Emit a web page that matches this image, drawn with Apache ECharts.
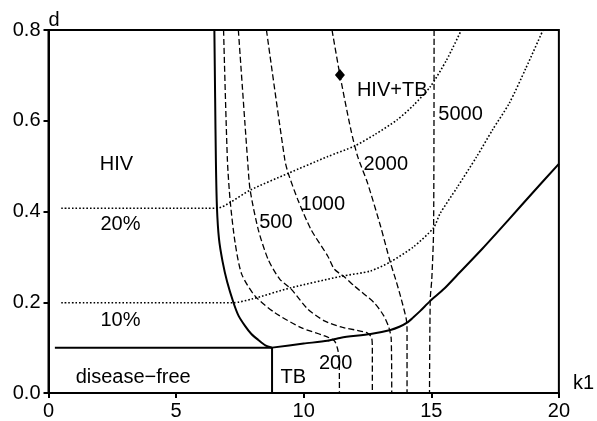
<!DOCTYPE html>
<html><head><meta charset="utf-8">
<script src="https://cdn.jsdelivr.net/npm/echarts@6/dist/echarts.min.js"></script>
<style>html,body{margin:0;padding:0;background:#fff}#c{width:597px;height:421px}</style>
</head><body><div id="c"></div>
<script>
// ---- data ----
const xTicks = [0, 5, 10, 15, 20];
const yTicks = [0, 0.2, 0.4, 0.6, 0.8];

// thick region boundaries
const diseaseFreeTop = [[0.25, 0.1], [8.76, 0.1]];
const tbLeftEdge = [[8.76, 0], [8.76, 0.1]];
const hivBoundary = [[6.5, 0.8], [6.53, 0.65], [6.56, 0.51], [6.6, 0.41], [6.68, 0.34], [6.82, 0.29], [7.0, 0.245], [7.25, 0.199], [7.45, 0.17], [7.7, 0.148], [7.95, 0.13], [8.22, 0.117], [8.5, 0.105], [8.76, 0.1]];
const tbBoundary = [[8.76, 0.1], [10, 0.109], [10.93, 0.115], [11.46, 0.122], [12.62, 0.13], [13.4, 0.139], [13.75, 0.146], [14.05, 0.155], [14.3, 0.167], [14.57, 0.181], [14.96, 0.203], [15.49, 0.229], [16.0, 0.259], [17, 0.318], [18, 0.38], [19, 0.443], [20, 0.505]];

// dashed contour levels
const contour200 = [[6.86, 0.8], [7.01, 0.514], [7.12, 0.423], [7.31, 0.332], [7.57, 0.262], [8.09, 0.214], [8.87, 0.177], [9.9, 0.144], [10.81, 0.126], [11.2, 0.115], [11.33, 0.097], [11.39, 0.075], [11.4, 0]];
const contour500 = [[7.44, 0.8], [7.8, 0.514], [7.9, 0.448], [8.22, 0.36], [8.61, 0.294], [9.06, 0.251], [9.51, 0.229], [10.16, 0.185], [10.81, 0.159], [11.5, 0.145], [12.1, 0.138], [12.5, 0.132], [12.66, 0.122], [12.69, 0.1], [12.69, 0]];
const contour1000 = [[8.54, 0.8], [9.26, 0.514], [9.39, 0.485], [9.77, 0.426], [10.29, 0.36], [10.94, 0.302], [11.2, 0.273], [11.59, 0.256], [11.98, 0.236], [12.76, 0.199], [13.14, 0.17], [13.34, 0.144], [13.43, 0.119], [13.45, 0]];
const contour2000 = [[11.11, 0.8], [11.42, 0.701], [11.85, 0.58], [12.11, 0.522], [12.5, 0.463], [13.01, 0.368], [13.4, 0.287], [13.6, 0.251], [13.79, 0.214], [14.02, 0.163], [14.05, 0.14], [14.05, 0]];
const contour5000 = [[15.11, 0.8], [15.09, 0.36], [15.02, 0.251], [14.96, 0.207], [14.93, 0]];

// dotted prevalence lines
const prev20 = [[0.5, 0.407], [6.6, 0.407], [7.12, 0.42], [7.9, 0.447], [9.39, 0.484], [10.94, 0.521], [11.98, 0.544], [12.8, 0.57], [13.66, 0.602], [14.3, 0.634], [14.96, 0.675], [15.6, 0.734], [16.18, 0.8]];
const prev10 = [[0.5, 0.199], [7.25, 0.199], [7.96, 0.207], [9.51, 0.232], [11.46, 0.257], [12.62, 0.269], [13.4, 0.289], [14.3, 0.322], [15.09, 0.364], [15.34, 0.395], [16.0, 0.452], [16.77, 0.52], [17.4, 0.58], [18.06, 0.639], [18.7, 0.715], [19.38, 0.8]];

// marked point
const marker = [[11.42, 0.701]];

// text annotations
const labelTexts = ['HIV', '20%', '10%', 'disease\u2212free', 'TB', '200', '500', '1000', '2000', '5000', 'HIV+TB'];
const labelX = [2.62, 2.78, 2.78, 3.28, 9.55, 11.21, 8.87, 10.71, 13.18, 16.11, 13.43];
const labelY = [0.51, 0.377, 0.166, 0.04, 0.04, 0.07, 0.381, 0.421, 0.509, 0.619, 0.673];

// ---- chart ----
const FONT = 'Liberation Sans, Arial, sans-serif';
const chart = echarts.init(document.getElementById('c'), null, {renderer: 'canvas'});

function lineSeries(data, kind) {
  let ls;
  if (kind === 'solid') ls = {color: '#000', width: 2, type: 'solid'};
  else if (kind === 'dash') ls = {color: '#000', width: 1.3, type: [6, 3]};
  else ls = {color: '#000', width: 1.6, type: [1.6, 2]};
  return {
    type: 'line', data: data, showSymbol: false, symbol: 'none',
    smooth: data.length <= 2 ? false : 0.25,
    lineStyle: ls, silent: true, animation: false, z: kind === 'solid' ? 5 : 3
  };
}

const labelData = labelTexts.map((t, i) => [labelX[i], labelY[i], t]);

chart.setOption({
  animation: false,
  backgroundColor: '#fff',
  grid: {left: 48.5, right: 34, top: 30, bottom: 27, show: true, borderColor: '#000', borderWidth: 2, containLabel: false},
  xAxis: {
    type: 'value', min: xTicks[0], max: xTicks[xTicks.length - 1], interval: 5,
    name: 'k1', nameLocation: 'end', nameGap: 14,
    nameTextStyle: {fontSize: 20, color: '#000', fontFamily: FONT, align: 'left', verticalAlign: 'bottom', padding: [0, 0, 0, 0]},
    axisLine: {show: true, lineStyle: {color: '#000', width: 2}},
    axisTick: {show: true, length: 5, inside: false, lineStyle: {color: '#000', width: 2}},
    axisLabel: {fontSize: 20, color: '#000', fontFamily: FONT, margin: 8},
    splitLine: {show: false}
  },
  yAxis: {
    type: 'value', min: yTicks[0], max: yTicks[yTicks.length - 1], interval: 0.2,
    name: 'd', nameLocation: 'end', nameGap: 0,
    nameTextStyle: {fontSize: 20, color: '#000', fontFamily: FONT, align: 'left', verticalAlign: 'bottom'},
    axisLine: {show: true, lineStyle: {color: '#000', width: 2}},
    axisTick: {show: true, length: 5, inside: false, lineStyle: {color: '#000', width: 2}},
    axisLabel: {fontSize: 20, color: '#000', fontFamily: FONT, margin: 8, formatter: v => v.toFixed(1)},
    splitLine: {show: false}
  },
  series: [
    lineSeries(prev20, 'dot'),
    lineSeries(prev10, 'dot'),
    lineSeries(contour200, 'dash'),
    lineSeries(contour500, 'dash'),
    lineSeries(contour1000, 'dash'),
    lineSeries(contour2000, 'dash'),
    lineSeries(contour5000, 'dash'),
    lineSeries(diseaseFreeTop, 'solid'),
    lineSeries(tbLeftEdge, 'solid'),
    lineSeries(hivBoundary, 'solid'),
    lineSeries(tbBoundary, 'solid'),
    {
      type: 'scatter', data: marker, symbol: 'diamond', symbolSize: [10, 12],
      itemStyle: {color: '#000', opacity: 1}, z: 6, silent: true
    },
    {
      type: 'scatter', data: labelData, symbolSize: 1, itemStyle: {color: 'rgba(0,0,0,0)'}, z: 7, silent: true,
      label: {show: true, position: 'inside', offset: [1, 2.5], formatter: p => p.data[2], fontSize: 20, color: '#000', opacity: 1,
        textBorderWidth: 0, textShadowBlur: 0, fontFamily: FONT}
    }
  ]
});
</script>
</body></html>
